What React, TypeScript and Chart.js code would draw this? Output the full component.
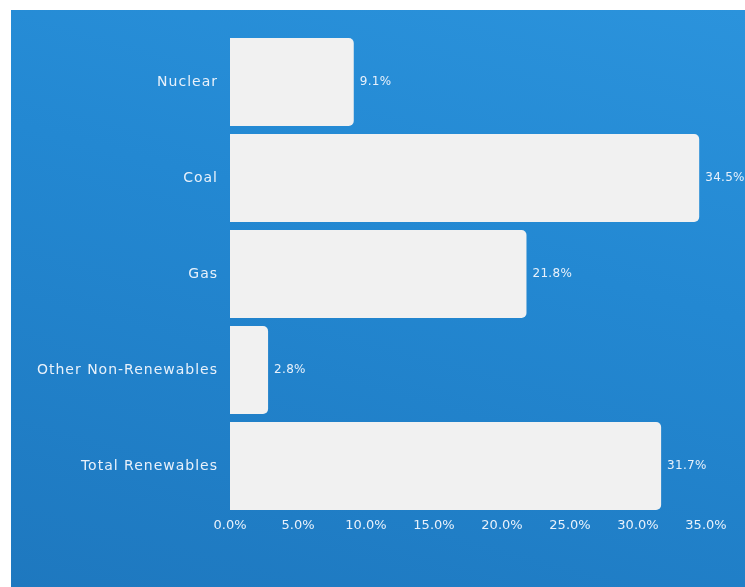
import React, { useEffect, useRef } from "react";
import { Chart, registerables } from "chart.js";

Chart.register(...registerables);

const categories = ["Nuclear", "Coal", "Gas", "Other Non-Renewables", "Total Renewables"];
const shares = [9.1, 34.5, 21.8, 2.8, 31.7];
const xTickMax = 35;
const xTickStep = 5;

const FONT = "'DejaVu Sans', sans-serif";
const TEXT = "#e8f1fb";

const customText = {
  id: "customText",
  afterDatasetsDraw(chart: any) {
    const ctx = chart.ctx;
    const meta = chart.getDatasetMeta(0);
    ctx.save();
    ctx.fillStyle = TEXT;
    ctx.font = "12px " + FONT;
    (ctx as any).letterSpacing = "0.3px";
    ctx.textAlign = "left";
    ctx.textBaseline = "middle";
    meta.data.forEach((bar: any, i: number) => {
      ctx.fillText(shares[i].toFixed(1) + "%", bar.x + 6, bar.y);
    });
    // category labels
    const yScale = chart.scales.y;
    ctx.font = "14px " + FONT;
    (ctx as any).letterSpacing = "1px";
    ctx.textAlign = "right";
    categories.forEach((c, i) => {
      ctx.fillText(c, chart.chartArea.left - 12, yScale.getPixelForTick(i));
    });
    ctx.restore();
  },
};

export default function App() {
  const ref = useRef<HTMLCanvasElement>(null);
  useEffect(() => {
    const chart = new Chart(ref.current!, {
      type: "bar",
      data: {
        labels: categories,
        datasets: [
          {
            data: shares,
            backgroundColor: "#f1f1f1",
            borderRadius: { topRight: 5, bottomRight: 5, topLeft: 0, bottomLeft: 0 },
            borderSkipped: false,
            categoryPercentage: 0.917,
            barPercentage: 1,
          },
        ],
      },
      options: {
        indexAxis: "y",
        animation: false,
        responsive: false,
        maintainAspectRatio: false,
        layout: { padding: { top: 34, right: 39, bottom: 0, left: 0 } },
        plugins: { legend: { display: false }, tooltip: { enabled: false } },
        scales: {
          x: {
            min: 0,
            max: xTickMax,
            ticks: {
              stepSize: xTickStep,
              color: TEXT,
              font: { family: FONT, size: 13 },
              padding: 4,
              callback: (v: any) => Number(v).toFixed(1) + "%",
            },
            grid: { display: false, drawTicks: false, tickLength: 0 },
            border: { display: false },
            afterFit: (s: any) => {
              s.height = 73;
            },
          },
          y: {
            ticks: { display: false },
            grid: { display: false, drawTicks: false, tickLength: 0 },
            border: { display: false },
            afterFit: (s: any) => {
              s.width = 230;
            },
          },
        },
      },
      plugins: [customText],
    });
    return () => chart.destroy();
  }, []);

  return (
    <div
      style={{
        position: "fixed",
        left: 0,
        top: 0,
        width: 745,
        height: 587,
        background: "#ffffff",
        overflow: "hidden",
      }}
    >
      <div
        style={{
          position: "absolute",
          left: 11,
          top: 10,
          width: 734,
          height: 577,
          background: "linear-gradient(195deg, #2b93dc 0%, #2388d2 40%, #1e78bf 100%)",
        }}
      />
      <canvas
        ref={ref}
        width={745}
        height={587}
        style={{ position: "absolute", left: 0, top: 0, width: 745, height: 587 }}
      />
    </div>
  );
}
